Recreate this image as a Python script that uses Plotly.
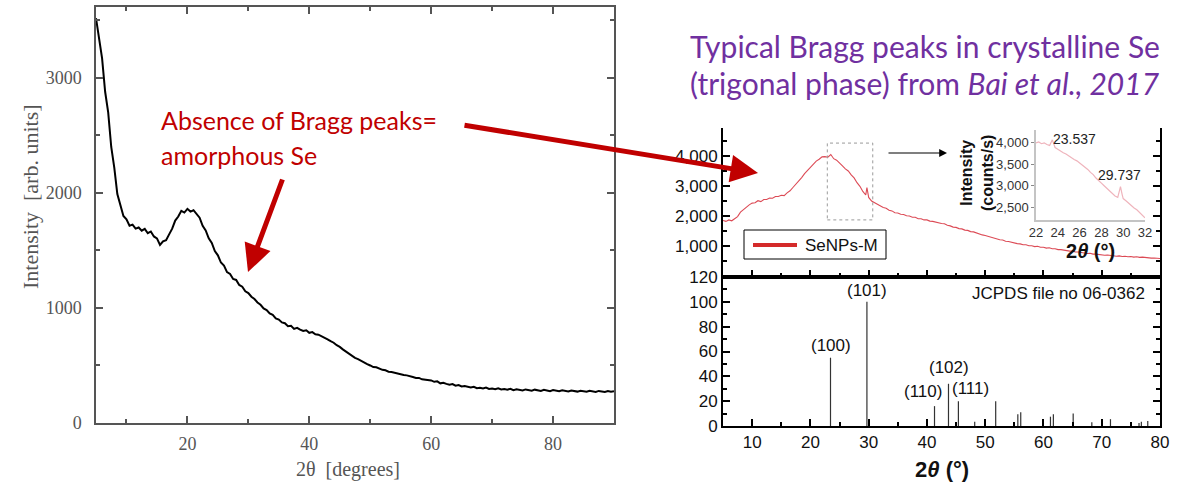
import plotly.graph_objects as go

W, H = 1186, 485


def px(x):
    return x / W


def py(y):
    return 1 - y / H


# ---------------- data: amorphous Se (left) ----------------
amor_start, amor_step = 5.0, 0.5
amor_counts = [
    # 5.0 - 9.5
    3520, 3360, 3170, 2880, 2700, 2400, 2220, 1990, 1900, 1800,
    # 10.0 - 34.5
    1770, 1715, 1725, 1690, 1700, 1672, 1688, 1650, 1665, 1622,
    1605, 1548, 1580, 1590, 1640, 1690, 1760, 1795, 1845, 1830,
    1862, 1838, 1850, 1812, 1785, 1715, 1675, 1605, 1565, 1495,
    1458, 1395, 1368, 1312, 1296, 1252, 1244, 1200, 1185, 1145,
    1130, 1098, 1078, 1048, 1028, 996, 982, 952, 940, 910,
    # 35.0 - 59.5
    900, 875, 868, 842, 845, 818, 828, 812, 800, 806,
    784, 790, 772, 768, 757, 740, 728, 712, 698, 676,
    662, 640, 622, 600, 588, 566, 556, 540, 522, 512,
    500, 486, 484, 470, 462, 458, 446, 444, 436, 432,
    424, 418, 414, 404, 400, 392, 392, 380, 378, 372,
    # 60.0 - 90.0
    370, 358, 362, 345, 350, 340, 333, 338, 324, 330,
    318, 322, 316, 308, 315, 303, 306, 300, 308, 296,
    300, 294, 302, 292, 296, 290, 298, 286, 293, 291,
    283, 292, 287, 281, 290, 284, 279, 288, 282, 277,
    286, 280, 276, 284, 279, 274, 283, 277, 273, 281,
    276, 272, 280, 274, 270, 279, 273, 269, 277, 272,
    276,
]
amor_2theta = [amor_start + amor_step * i for i in range(len(amor_counts))]

# ---------------- data: SeNPs-M (right, top) ----------------
crys_2theta = [
    5.0, 5.5, 6.0, 6.5, 7.0, 7.5, 8.0, 8.5, 9.0, 9.5,
    10.0, 10.5, 11.0, 11.5, 12.0, 12.5, 13.0, 13.5, 14.0, 14.5,
    15.0, 15.5, 16.0, 16.5, 17.0, 17.5, 18.0, 18.5, 19.0, 19.5,
    20.0, 20.5, 21.0, 21.5, 22.0, 22.5, 23.0, 23.5, 24.0, 24.5,
    25.0, 25.5, 26.0, 26.5, 27.0, 27.5, 28.0, 28.5, 29.0, 29.5,
    29.7, 29.85, 30.0, 30.5, 31.0, 31.5, 32.0, 32.5, 33.0, 33.5,
    34.0, 34.5, 35.0, 35.5, 36.0, 36.5, 37.0, 37.5, 38.0, 38.5,
    39.0, 39.5, 40.0, 40.5, 41.0, 41.5, 42.0, 42.5, 43.0, 43.5,
    44.0, 44.5, 45.0, 45.5, 46.0, 46.5, 47.0, 47.5, 48.0, 48.5,
    49.0, 49.5, 50.0, 50.5, 51.0, 51.5, 52.0, 52.5, 53.0, 53.5,
    54.0, 54.5, 55.0, 55.5, 56.0, 56.5, 57.0, 57.5, 58.0, 58.5,
    59.0, 59.5, 60.0, 60.5, 61.0, 61.5, 62.0, 62.5, 63.0, 63.5,
    64.0, 64.5, 65.0, 65.5, 66.0, 66.5, 67.0, 67.5, 68.0, 68.5,
    69.0, 69.5, 70.0, 70.5, 71.0, 71.5, 72.0, 72.5, 73.0, 73.5,
    74.0, 74.5, 75.0, 75.5, 76.0, 76.5, 77.0, 77.5, 78.0, 78.5,
    79.0, 79.5, 80.0,
]
crys_counts = [
    1850, 1820, 1870, 1840, 1910, 1980, 2130, 2220, 2310, 2370,
    2430, 2440, 2510, 2480, 2550, 2550, 2600, 2590, 2650, 2650,
    2690, 2680, 2770, 2840, 2950, 3050, 3180, 3280, 3410, 3510,
    3630, 3710, 3830, 3890, 3970, 3980, 3960, 4050, 3910, 3860,
    3750, 3670, 3570, 3500, 3370, 3270, 3110, 2990, 2820, 2700,
    2950, 2750, 2620, 2500, 2450, 2380, 2350, 2280, 2260, 2190,
    2170, 2110, 2100, 2060, 2050, 2010, 2000, 1960, 1960, 1910,
    1910, 1870, 1870, 1830, 1820, 1790, 1780, 1750, 1740, 1690,
    1670, 1630, 1620, 1580, 1570, 1530, 1520, 1480, 1470, 1430,
    1410, 1370, 1350, 1320, 1300, 1260, 1250, 1210, 1200, 1160,
    1150, 1120, 1110, 1080, 1070, 1040, 1040, 1010, 1010, 980,
    990, 960, 960, 930, 940, 910, 910, 880, 880, 860,
    860, 830, 830, 800, 800, 780, 780, 750, 760, 730,
    730, 710, 710, 690, 700, 680, 680, 660, 670, 650,
    660, 640, 650, 630, 640, 620, 630, 610, 615, 595,
    600, 580, 585,
]

# inset (zoom of 22-32 degrees)
inset_2theta = [
    22.0, 22.25, 22.5, 22.75, 23.0, 23.25, 23.5, 23.75, 24.0, 24.25,
    24.5, 24.75, 25.0, 25.25, 25.5, 25.75, 26.0, 26.25, 26.5, 26.75,
    27.0, 27.25, 27.5, 27.75, 28.0, 28.25, 28.5, 28.75, 29.0, 29.25,
    29.5, 29.65, 29.75, 29.9, 30.0, 30.25, 30.5, 30.75, 31.0, 31.25,
    31.5, 31.75, 32.0,
]
inset_counts = [
    4000, 4020, 3980, 4000, 3960, 3940, 4070, 3890, 3850, 3800,
    3770, 3740, 3690, 3660, 3610, 3580, 3530, 3490, 3420, 3380,
    3310, 3260, 3180, 3130, 3060, 3000, 2940, 2880, 2800, 2760,
    2730, 2900, 2980, 2800, 2700, 2650, 2590, 2540, 2480, 2440,
    2380, 2310, 2250,
]

# JCPDS 06-0362 reference pattern
ref_2theta = [23.45, 29.7, 41.3, 43.7, 45.4, 48.2, 51.8, 55.6, 56.1,
              61.2, 61.7, 65.1, 68.3, 71.5, 76.4, 76.8, 77.9]
ref_intensity = [55, 100, 16, 34, 20, 3.5, 20, 9.5, 11,
                 7.5, 9.5, 10, 3, 5.5, 2.5, 3.5, 4]
hkl_labels = ["(100)", "(101)", "(110)", "(102)", "(111)"]
hkl_label_x = [23.45, 29.7, 39.3, 43.8, 47.4]
hkl_label_y = [64.5, 109.5, 27.5, 47.5, 30.5]

# ---------------- styles ----------------
SERIF = "Liberation Serif"
SANS = "Liberation Sans"
RED = "#C00000"
PURPLE = "#7030A0"
GRAY = "#555555"

fig = go.Figure()

fig.add_trace(go.Scatter(x=amor_2theta, y=amor_counts, mode="lines",
                         line=dict(color="black", width=2),
                         xaxis="x", yaxis="y", showlegend=False))

fig.add_trace(go.Scatter(x=crys_2theta, y=crys_counts, mode="lines",
                         line=dict(color="#dc4a55", width=1.1),
                         xaxis="x2", yaxis="y2", showlegend=False))

stick_x, stick_y = [], []
for p, h in zip(ref_2theta, ref_intensity):
    stick_x += [p, p, None]
    stick_y += [0, h, None]
fig.add_trace(go.Scatter(x=stick_x, y=stick_y, mode="lines",
                         line=dict(color="#333333", width=1.2),
                         xaxis="x3", yaxis="y3", showlegend=False))

fig.add_trace(go.Scatter(x=inset_2theta, y=inset_counts, mode="lines",
                         line=dict(color="#efb4bc", width=1.2),
                         xaxis="x4", yaxis="y4", showlegend=False))

# ---------------- axes ----------------
left_axis = dict(showgrid=False, zeroline=False, showline=True,
                 linecolor=GRAY, linewidth=1.5, ticks="inside",
                 tickcolor=GRAY, tickwidth=1.5, ticklen=7,
                 mirror="ticks",
                 tickfont=dict(family=SERIF, size=18, color=GRAY))
right_axis = dict(showgrid=False, zeroline=False, showline=True,
                  linecolor="black", linewidth=2, ticks="inside",
                  tickcolor="black", tickwidth=1.5, ticklen=7,
                  tickfont=dict(family=SANS, size=17, color="#111111"))

fig.update_layout(
    width=W, height=H,
    margin=dict(l=0, r=0, t=0, b=0, autoexpand=False),
    paper_bgcolor="white", plot_bgcolor="rgba(0,0,0,0)",
    showlegend=False,
    xaxis=dict(left_axis, domain=[px(96), px(614)], range=[5, 90],
               tickmode="linear", tick0=0, dtick=20, anchor="y",
               ticklabelstandoff=4,
               minor=dict(dtick=10, tick0=0, ticks="inside", ticklen=4,
                          tickcolor=GRAY, tickwidth=1.5)),
    yaxis=dict(left_axis, domain=[py(423), py(7)], range=[0, 3617],
               tickmode="linear", tick0=0, dtick=1000, anchor="x",
               ticklabelstandoff=9,
               minor=dict(dtick=500, tick0=0, ticks="inside", ticklen=4,
                          tickcolor=GRAY, tickwidth=1.5)),
    xaxis2=dict(right_axis, domain=[px(723), px(1160)], range=[5, 80],
                tickmode="linear", tick0=0, dtick=10, anchor="y2",
                showticklabels=False, mirror=False,
                minor=dict(dtick=5, tick0=0, ticks="inside", ticklen=4,
                           tickcolor="black", tickwidth=1.5)),
    yaxis2=dict(right_axis, domain=[py(277), py(128)], range=[-33, 4933],
                tickmode="array", tickvals=[1000, 2000, 3000, 4000],
                tickformat=",", anchor="x2", mirror="ticks",
                minor=dict(tickmode="array",
                           tickvals=[500, 1500, 2500, 3500, 4500],
                           ticks="inside", ticklen=4,
                           tickcolor="black", tickwidth=1.5)),
    xaxis3=dict(right_axis, domain=[px(723), px(1160)], range=[5, 80],
                tickmode="linear", tick0=0, dtick=10, anchor="y3",
                mirror=True,
                minor=dict(dtick=5, tick0=0, ticks="inside", ticklen=4,
                           tickcolor="black", tickwidth=1.5)),
    yaxis3=dict(right_axis, domain=[py(426), py(277)], range=[0, 120],
                tickmode="linear", tick0=0, dtick=20, anchor="x3",
                mirror="ticks",
                minor=dict(dtick=10, tick0=0, ticks="inside", ticklen=4,
                           tickcolor="black", tickwidth=1.5)),
    xaxis4=dict(domain=[px(1036), px(1145)], range=[22, 32],
                tickmode="linear", tick0=22, dtick=2, anchor="y4",
                showgrid=False, zeroline=False, showline=True,
                linecolor="#c4c4c4", linewidth=1.5, ticks="",
                tickfont=dict(family=SANS, size=13, color="#333333")),
    yaxis4=dict(domain=[py(220), py(130)], range=[2200, 4300],
                tickmode="array", tickvals=[2500, 3000, 3500, 4000],
                tickformat=",", anchor="x4",
                showgrid=False, zeroline=False, showline=True,
                linecolor="#c4c4c4", linewidth=1.5, ticks="outside",
                ticklen=3, tickcolor="#888888",
                tickfont=dict(family=SANS, size=13, color="#333333")),
)

# ---------------- annotations ----------------
ann = []


def note(text, x, y, size, color, family=SANS, xanchor="center",
         yanchor="middle", angle=0, xref="paper", yref="paper"):
    ann.append(dict(text=text, x=x, y=y, xref=xref, yref=yref,
                    showarrow=False, xanchor=xanchor, yanchor=yanchor,
                    textangle=angle, borderpad=0,
                    font=dict(family=family, size=size, color=color)))


# left axis titles
note("Intensity  [arb. units]", px(30), py(197), 22, GRAY, SERIF, angle=-90)
note("2θ  [degrees]", px(348), py(469), 20, GRAY, SERIF)

# red annotation text
note("Absence of Bragg peaks=", px(160), py(120), 25, RED, "Lato",
     xanchor="left")
note("amorphous Se", px(160), py(155), 25, RED, "Lato", xanchor="left")

# purple title
note("Typical Bragg peaks in crystalline Se", px(689), py(46), 30, PURPLE,
     "Lato", xanchor="left")
note("(trigonal phase) from <i>Bai et al., 2017</i>", px(689), py(83), 30,
     PURPLE, "Lato", xanchor="left")

# inset labels
note("23.537", 23.5, 4300, 14, "#222222", xanchor="left", yanchor="top",
     xref="x4", yref="y4")
note("29.737", 29.7, 3250, 14, "#222222", xref="x4", yref="y4")
note("<b>Intensity<br>(counts/s)</b>", px(977), py(173), 16, "#111111",
     angle=-90)
note("<b>2<i>θ</i> (°)</b>", px(1090), py(251), 20, "#111111")

# main x title right
note("<b>2<i>θ</i> (°)</b>", px(942), py(469), 22, "#111111")

# hkl labels
for t, xx, yy in zip(hkl_labels, hkl_label_x, hkl_label_y):
    note(t, xx, yy, 17, "#111111", xref="x3", yref="y3")
note("JCPDS file no 06-0362", 77.6, 107, 17, "#111111", xanchor="right",
     xref="x3", yref="y3")

# legend text
note("SeNPs-M", px(804), py(245), 17, "#111111", xanchor="left")

# arrows
ann.append(dict(text="", x=px(248), y=py(272), xref="paper", yref="paper",
                ax=35, ay=-94, axref="pixel", ayref="pixel",
                showarrow=True, arrowhead=2, arrowsize=1.1, arrowwidth=5,
                arrowcolor=RED, standoff=0))
ann.append(dict(text="", x=px(758), y=py(173), xref="paper", yref="paper",
                ax=-295, ay=-48, axref="pixel", ayref="pixel",
                showarrow=True, arrowhead=2, arrowsize=1.1, arrowwidth=5,
                arrowcolor=RED, standoff=0))
ann.append(dict(text="", x=px(947), y=py(153), xref="paper", yref="paper",
                ax=-60, ay=0, axref="pixel", ayref="pixel",
                showarrow=True, arrowhead=2, arrowsize=1.3, arrowwidth=1.2,
                arrowcolor="black", standoff=0))

fig.update_layout(annotations=ann)

# ---------------- shapes ----------------
fig.update_layout(shapes=[
    dict(type="rect", xref="x2", yref="y2", x0=22.9, x1=30.7,
         y0=1870, y1=4430, line=dict(color="#9a9a9a", width=1, dash="dot")),
    dict(type="rect", xref="paper", yref="paper", x0=px(744), x1=px(886),
         y0=py(259), y1=py(230), line=dict(color="black", width=1),
         fillcolor="white", layer="below"),
    dict(type="line", xref="paper", yref="paper", x0=px(753), x1=px(797),
         y0=py(245), y1=py(245), line=dict(color="#d42a2a", width=4)),
])

fig.write_html("out.html")
